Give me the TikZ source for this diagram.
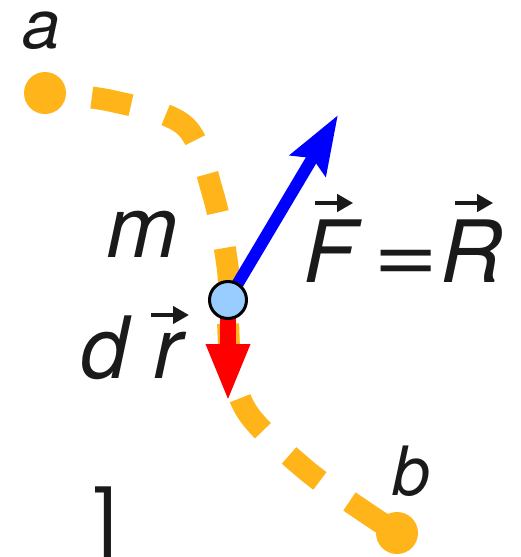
\documentclass[tikz,border=0pt]{standalone}
\usepackage{fontspec}
\setmainfont{TeX Gyre Heros}
\usetikzlibrary{arrows.meta}
\definecolor{orng}{RGB}{255,181,26}
\definecolor{ballblue}{RGB}{153,204,255}
\definecolor{ink}{RGB}{26,26,26}
\newbox\lettbox
\newcommand\arrowon[3]{\leavevmode\setbox\lettbox\hbox{#1}\rlap{\kern#3\raisebox{#2}{\tikz[baseline=0pt]\draw[vecarr] (0,0) -- (38pt,0);}}\box\lettbox}
\tikzset{
  vecarr/.style={ink, line width=4pt, -{Triangle[length=16pt,width=17pt]}},
  lbl/.style={inner sep=0pt, anchor=base west, text=ink, font=\itshape\fontsize{86}{86}\selectfont},
  slbl/.style={lbl, font=\itshape\fontsize{68}{68}\selectfont, text height=38pt, text depth=0pt},
  dot/.style={circle, fill=orng, minimum size=42pt, inner sep=0pt},
  ball/.style={circle, draw=black, line width=3pt, fill=ballblue, minimum size=37pt, inner sep=0pt},
  trail/.style={orng, line width=22pt, dash pattern=on 40pt off 36pt, dash phase=29pt},
}
\begin{document}
\begin{tikzpicture}[x=1pt,y=-1pt]
\clip (0,0) rectangle (520,557);
\fill[white] (0,0) rectangle (520,557);
\node[dot] (a) at (45,93) {};
\node[dot] (b) at (397,533) {};
\draw[trail] plot[smooth, tension=0.55] coordinates {(a.center) (112,101) (185,126) (213,194) (228,270) (228,320) (232,370) (250,416) (306,470) (362,510) (b.center)};
\coordinate (mc) at (228,300);
\coordinate (ftip) at (338,115);
\coordinate (rtip) at (228,402);
\draw[blue, line width=12pt, -{Stealth[length=58pt,width=40pt,inset=8pt]}] (mc) -- (ftip);
\draw[red, line width=16pt, -{Triangle[length=58pt,width=40pt]}] (mc) -- (rtip);
\node[ball] (m) at (mc) {};
\node[slbl] (la) at (22,48) {a};
\node[slbl] (lb) at (392,495) {b};
\node[lbl] (lm) at (106,257) {m};
\node[lbl] (ldr) at (80,378) {d\kern 25pt\arrowon{r}{63pt}{-4pt}};
\node[lbl] (lF) at (303,282) {\arrowon{F}{79pt}{10pt}};
\node[lbl] (leq) at (373,282) {\scalebox{1.3}[1]{=}};
\node[lbl] (lR) at (440,282) {\arrowon{R}{79pt}{13pt}};
\node[lbl, font=\fontsize{86}{86}\selectfont] (br) at (93,549) {]};
\end{tikzpicture}
\end{document}
